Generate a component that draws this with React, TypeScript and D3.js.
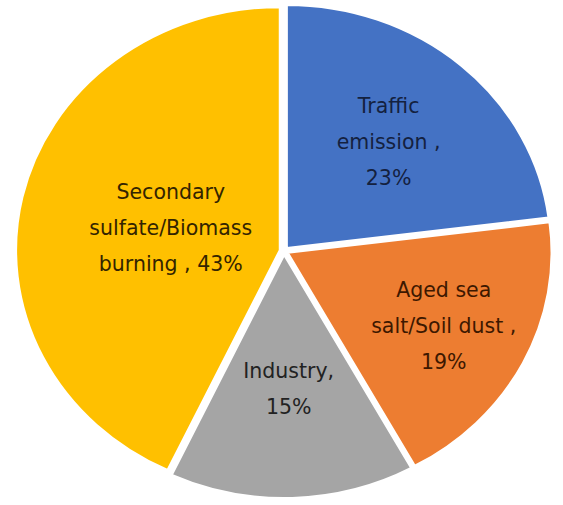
import React from "react";
import * as d3 from "d3";

const categories = ["Traffic emission", "Aged sea salt/Soil dust", "Industry", "Secondary sulfate/Biomass burning"];
const values = [23, 19, 15, 43];
const labelLines = [
  ["Traffic", "emission ,", "23%"],
  ["Aged sea", "salt/Soil dust ,", "19%"],
  ["Industry,", "15%"],
  ["Secondary", "sulfate/Biomass", "burning , 43%"],
];
const colors = ["#4472C4", "#ED7D31", "#A5A5A5", "#FFC000"];
const textColors = ["#14213f", "#3d1800", "#222222", "#332400"];

// layout constants
const W = 563, H = 505;
const CX = 284, CY = 251;
const RY = 243, SX = 1.085;
const EXPLODE = 4;
const LABEL_R = [0.6, 0.68, 0.57, 0.44];
const LINE_H = 36;

export default function App() {
  const pie = d3.pie<number>().sort(null).startAngle(0).endAngle(2 * Math.PI)(values);
  const arc = d3.arc<d3.PieArcDatum<number>>().innerRadius(0).outerRadius(RY);
  return (
    <svg width={W} height={H} style={{ position: "absolute", left: 0, top: 0 }}>
      <rect width={W} height={H} fill="#fff" />
      {pie.map((p, i) => {
        const mid = (p.startAngle + p.endAngle) / 2;
        const dx = Math.sin(mid) * EXPLODE;
        const dy = -Math.cos(mid) * EXPLODE;
        return (
          <g key={i} transform={`translate(${CX + dx * SX},${CY + dy}) scale(${SX},1)`}>
            <path d={arc(p) || ""} fill={colors[i]} stroke="#fff" strokeWidth={2} vectorEffect="non-scaling-stroke" />
          </g>
        );
      })}
      {pie.map((p, i) => {
        const mid = (p.startAngle + p.endAngle) / 2;
        const r = RY * LABEL_R[i];
        const x = CX + Math.sin(mid) * r * SX;
        const y = CY - Math.cos(mid) * r;
        const lines = labelLines[i];
        const y0 = y - ((lines.length - 1) * LINE_H) / 2;
        return (
          <text key={i} textAnchor="middle" fontFamily="'DejaVu Sans', sans-serif" fontSize={20.5} fill={textColors[i]}>
            {lines.map((l, j) => (
              <tspan key={j} x={x} y={y0 + j * LINE_H} dominantBaseline="central">{l}</tspan>
            ))}
          </text>
        );
      })}
    </svg>
  );
}
